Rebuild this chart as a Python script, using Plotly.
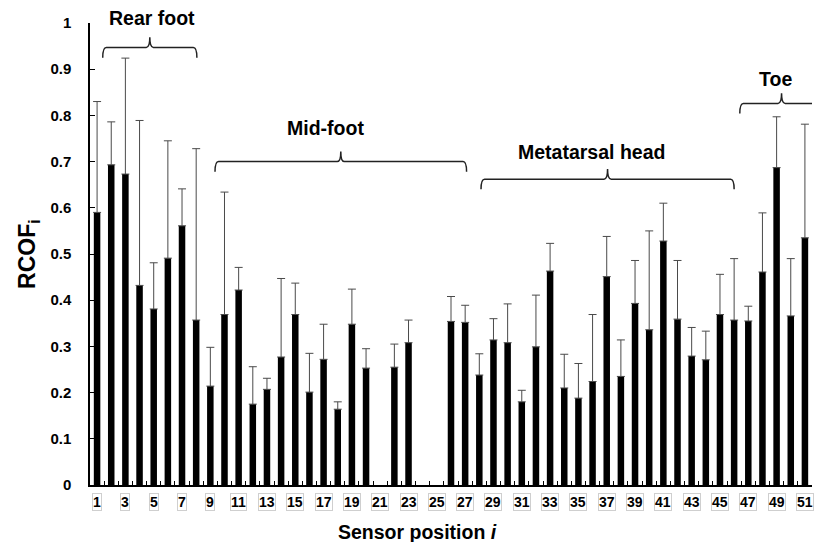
import plotly.graph_objects as go

# ---- data ----
sensors = list(range(1, 52))
rcof_mean = [0.590, 0.693, 0.673, 0.432, 0.381, 0.491, 0.561, 0.357,
             0.214, 0.369, 0.422, 0.175, 0.207, 0.277, 0.369, 0.201, 0.272, 0.164, 0.348, 0.253,
             None, 0.255, 0.308, None, None, 0.354, 0.352,
             0.238, 0.314, 0.308, 0.180, 0.299, 0.463, 0.210, 0.188, 0.224, 0.451, 0.235, 0.393,
             0.336, 0.528, 0.359, 0.279, 0.271, 0.369, 0.357,
             0.355, 0.461, 0.687, 0.366, 0.535]
rcof_sd = [0.240, 0.093, 0.251, 0.357, 0.100, 0.254, 0.080, 0.371,
           0.084, 0.265, 0.049, 0.081, 0.024, 0.170, 0.068, 0.084, 0.076, 0.016, 0.076, 0.042,
           None, 0.050, 0.049, None, None, 0.054, 0.037,
           0.046, 0.046, 0.084, 0.025, 0.112, 0.060, 0.073, 0.075, 0.145, 0.087, 0.079, 0.093,
           0.214, 0.082, 0.127, 0.062, 0.062, 0.087, 0.133,
           0.032, 0.128, 0.110, 0.124, 0.246]
tick_labels = [str(n) for n in range(1, 52, 2)]
region_names = ["Rear foot", "Mid-foot", "Metatarsal head", "Toe"]

# bracket layout (x0, x1, line y, label x, label y)
brackets = [
    (1.40, 8.05, 0.947, 4.85, 1.010),
    (9.33, 27.10, 0.700, 17.10, 0.773),
    (28.12, 46.00, 0.662, 35.94, 0.721),
    (46.40, 52.30, 0.826, 48.94, 0.879),
]

FONT = "Liberation Sans, Arial"

fig = go.Figure()
fig.add_trace(go.Bar(
    x=sensors, y=rcof_mean,
    marker=dict(color="black", line=dict(width=0)),
    error_y=dict(type="data", array=rcof_sd, symmetric=False,
                 arrayminus=[0] * len(rcof_sd),
                 color="#4a4a4a", thickness=1, width=4),
    showlegend=False,
))

shapes = []
annotations = []
h = 0.022
dx = 0.25
for (x0, x1, yl, tx, ty), name in zip(brackets, region_names):
    xm = (x0 + x1) / 2
    path = (f"M {x0},{yl - h} Q {x0},{yl} {x0 + dx},{yl} "
            f"L {xm - dx},{yl} Q {xm},{yl} {xm},{yl + h} "
            f"Q {xm},{yl} {xm + dx},{yl} L {x1 - dx},{yl} "
            f"Q {x1},{yl} {x1},{yl - h}")
    shapes.append(dict(type="path", path=path, xref="x", yref="paper",
                       line=dict(color="#222222", width=1.5)))
    annotations.append(dict(x=tx, y=ty, xref="x", yref="paper", text=name,
                            showarrow=False, xanchor="center", yanchor="middle",
                            font=dict(family=FONT, size=19.5,
                                      color="black", weight="bold")))

# x tick labels in light boxes
for lbl in tick_labels:
    annotations.append(dict(x=int(lbl), y=0, xref="x", yref="paper", text=lbl,
                            showarrow=False, yanchor="top", xanchor="center", yshift=-8,
                            font=dict(family=FONT, size=14,
                                      color="black", weight="bold"),
                            bordercolor="#cfcfcf", borderwidth=1, borderpad=0))

annotations.append(dict(x=0.454, y=0, xref="paper", yref="paper",
                        text="Sensor position <i>i</i>", showarrow=False,
                        xanchor="center", yanchor="top", yshift=-34,
                        font=dict(family=FONT, size=19.5,
                                  color="black", weight="bold")))
annotations.append(dict(x=-0.086, y=0.5, xref="paper", yref="paper",
                        text="RCOF<sub>i</sub>", showarrow=False, textangle=-90,
                        xanchor="center", yanchor="middle",
                        font=dict(family=FONT, size=23,
                                  color="black", weight="bold")))

fig.update_layout(
    width=816, height=542,
    margin=dict(l=90, r=4, t=23, b=57),
    paper_bgcolor="white", plot_bgcolor="white",
    bargap=0.54,
    shapes=shapes,
    annotations=annotations,
    xaxis=dict(range=[0.5, 51.5], tickmode="linear", tick0=0.5, dtick=1,
               ticks="inside", ticklen=4, tickcolor="black",
               showticklabels=False, showgrid=False, zeroline=False,
               showline=True, linecolor="black", linewidth=1.5),
    yaxis=dict(range=[0, 1], tickmode="linear", tick0=0, dtick=0.1,
               ticks="inside", ticklen=5, tickcolor="black",
               tickfont=dict(family=FONT, size=15,
                             color="black", weight="bold"),
               ticklabelstandoff=14,
               showgrid=False, zeroline=False,
               showline=True, linecolor="black", linewidth=1.5),
)

fig.write_html("out.html")
